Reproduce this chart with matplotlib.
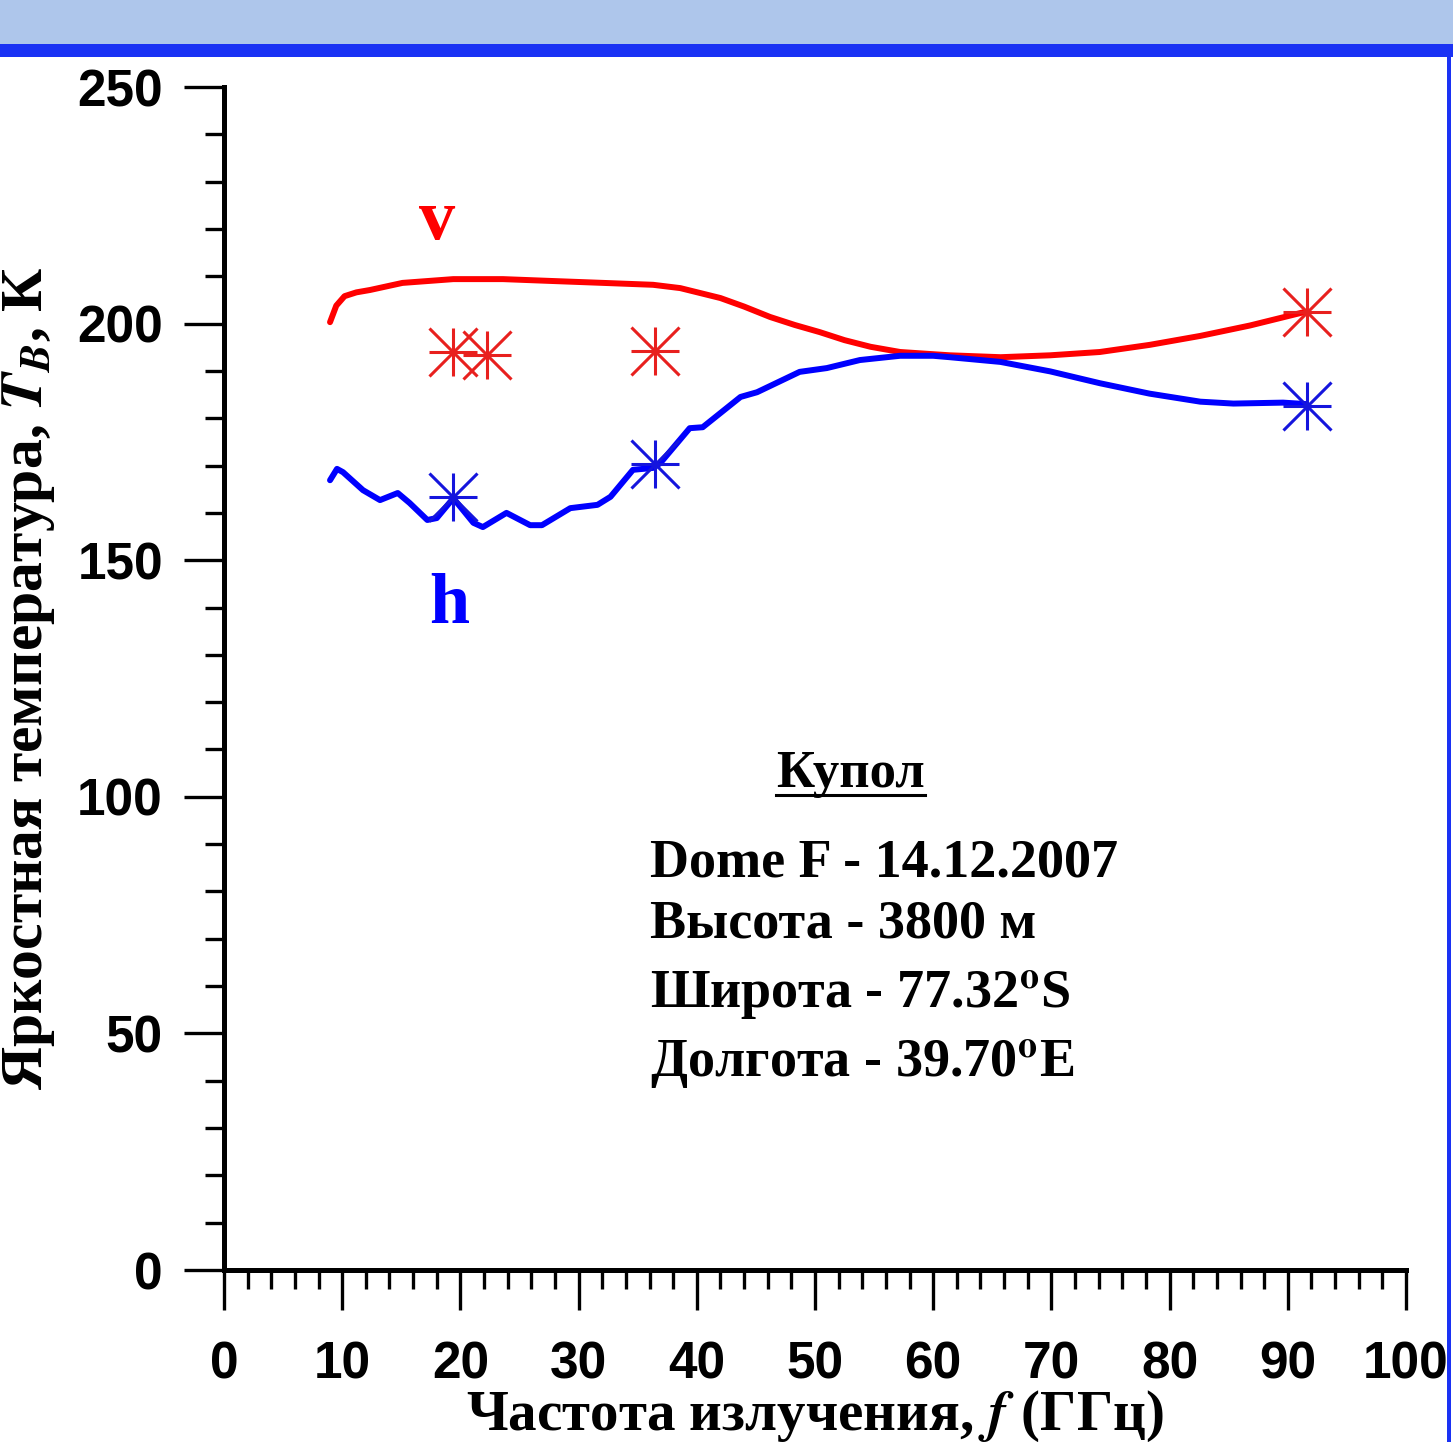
import matplotlib
matplotlib.use("Agg")
import matplotlib.pyplot as plt
from matplotlib.patches import Rectangle
from matplotlib.lines import Line2D
from matplotlib.ticker import MultipleLocator

# ---------------------------------------
# data
# ---------------------------------------
# v - polarization, model curve
v_freq = [8.97, 9.5, 10.2, 11.2, 12.35, 15.1, 19.4, 23.6, 27.8, 32.1, 36.3, 38.6,
          42.0, 44.0, 46.2, 48.3, 50.4, 52.5, 54.7, 57.2, 61.4, 65.7, 69.9,
          74.1, 78.3, 82.6, 86.8, 91.5]
v_tb = [200.3, 203.8, 205.8, 206.6, 207.1, 208.6, 209.4, 209.4, 209.0, 208.6,
        208.2, 207.5, 205.4, 203.6, 201.4, 199.7, 198.2, 196.5, 195.1, 194.0,
        193.3, 192.9, 193.3, 194.0, 195.5, 197.4, 199.6, 202.5]

# h - polarization, model curve
h_freq = [8.97, 9.56, 10.07, 11.76, 13.2, 14.7, 15.7, 17.2, 18.0, 19.4, 21.1,
          21.9, 23.9, 25.9, 26.9, 29.3, 31.6, 32.7, 34.6, 36.3, 36.9, 39.4,
          40.5, 43.7, 45.1, 48.7, 51.0, 53.8, 57.2, 60.0, 61.4, 65.7, 69.9,
          74.1, 78.3, 82.6, 85.4, 89.6, 91.5]
h_tb = [166.9, 169.3, 168.6, 164.8, 162.7, 164.2, 162.1, 158.5, 158.9, 163.1,
        157.9, 157.0, 160.0, 157.4, 157.4, 161.0, 161.7, 163.4, 169.1, 169.5,
        170.5, 177.9, 178.1, 184.5, 185.5, 189.8, 190.6, 192.3, 193.2, 193.2,
        192.9, 191.9, 189.9, 187.4, 185.2, 183.5, 183.1, 183.3, 183.0]

# measurements
v_meas_freq = [19.35, 22.24, 36.5, 91.65]
v_meas_tb = [194.0, 193.4, 194.3, 202.5]
h_meas_freq = [19.35, 36.5, 91.65]
h_meas_tb = [163.4, 170.3, 182.6]

info_title = "Купол"
info_lines = ["Dome F - 14.12.2007",
              "Высота - 3800 м",
              "Широта - 77.32$^{\\mathbf{o}}$S",
              "Долгота - 39.70$^{\\mathbf{o}}$E"]
info_y = [83.1, 70.2, 55.4, 40.8]

# ---------------------------------------
# figure
# ---------------------------------------
plt.rcParams["mathtext.fontset"] = "stix"
serif = ["Liberation Serif", "DejaVu Serif"]
sans = ["Liberation Sans", "DejaVu Sans"]

W, H = 1453, 1442
fig = plt.figure(figsize=(W / 100, H / 100), dpi=100)

# slide frame: light band + blue rule on top, blue rule at right
fig.patches.append(Rectangle((0, 1 - 44 / H), 1, 44 / H, transform=fig.transFigure,
                             facecolor="#aec6eb", edgecolor="none", zorder=0))
fig.patches.append(Rectangle((0, 1 - 57 / H), 1, 13 / H, transform=fig.transFigure,
                             facecolor="#1a32f4", edgecolor="none", zorder=0))
fig.patches.append(Rectangle((1447 / W, 0), 4 / W, 1 - 57 / H, transform=fig.transFigure,
                             facecolor="#1a32f4", edgecolor="none", zorder=0))

ax = fig.add_axes([224 / W, 1 - 1270 / H, 1182 / W, 1183 / H])
ax.set_facecolor("none")

ax.plot(v_freq, v_tb, color="#ff0000", lw=4.3, solid_capstyle="round",
        solid_joinstyle="round", zorder=3)
ax.plot(h_freq, h_tb, color="#0000ff", lw=4.3, solid_capstyle="round",
        solid_joinstyle="round", zorder=3)

for m in ["+", "x"]:
    ax.plot(v_meas_freq, v_meas_tb, ls="none", marker=m, ms=34, mew=2.2,
            color="#e8201e", zorder=4)
    ax.plot(h_meas_freq, h_meas_tb, ls="none", marker=m, ms=34, mew=2.2,
            color="#1515dd", zorder=4)

ax.set_xlim(0, 100)
ax.set_ylim(0, 250)
for s in ["top", "right"]:
    ax.spines[s].set_visible(False)
for s in ["left", "bottom"]:
    ax.spines[s].set_linewidth(3.6)

ax.xaxis.set_major_locator(MultipleLocator(10))
ax.xaxis.set_minor_locator(MultipleLocator(2))
ax.yaxis.set_major_locator(MultipleLocator(50))
ax.yaxis.set_minor_locator(MultipleLocator(10))
ax.tick_params(which="major", direction="out", length=29, width=2.4)
ax.tick_params(which="minor", direction="out", length=14, width=2.4)
ax.tick_params(axis="x", which="major", pad=22)
ax.tick_params(axis="y", which="major", pad=15)
for lab in ax.get_xticklabels() + ax.get_yticklabels():
    lab.set_family(sans)
    lab.set_fontweight("bold")
    lab.set_fontsize(37)

ax.set_xlabel("Частота излучения, $\\mathbfit{f}$ (ГГц)", family=serif,
              fontweight="bold", fontsize=41)
ax.xaxis.set_label_coords(0.5, -0.1)
ax.set_ylabel("Яркостная температура, $\\mathbfit{T}_{\\mathbfit{B}}$, К", family=serif,
              fontweight="bold", fontsize=43)
ax.yaxis.set_label_coords(-0.141, 0.5)

# curve labels
ax.text(18.0, 221.5, "v", color="#ff0000", family=serif, fontweight="bold",
        fontsize=52, ha="center", va="center")
ax.text(19.1, 140.5, "h", color="#0000ff", family=serif, fontweight="bold",
        fontsize=52, ha="center", va="center")

# site info
title = ax.text(53.0, 102.0, info_title, family=serif, fontweight="bold",
                fontsize=38, ha="center", va="baseline")
for line, y in zip(info_lines, info_y):
    ax.text(36.0, y, line, family=serif, fontweight="bold", fontsize=39,
            ha="left", va="baseline")

# underline for the title
fig.canvas.draw()
bb = title.get_window_extent().transformed(fig.transFigure.inverted())
uy = 1 - 795 / H
fig.add_artist(Line2D([bb.x0, bb.x1], [uy, uy], transform=fig.transFigure,
                      color="black", lw=2.2))

fig.savefig("out.png", dpi=100)
